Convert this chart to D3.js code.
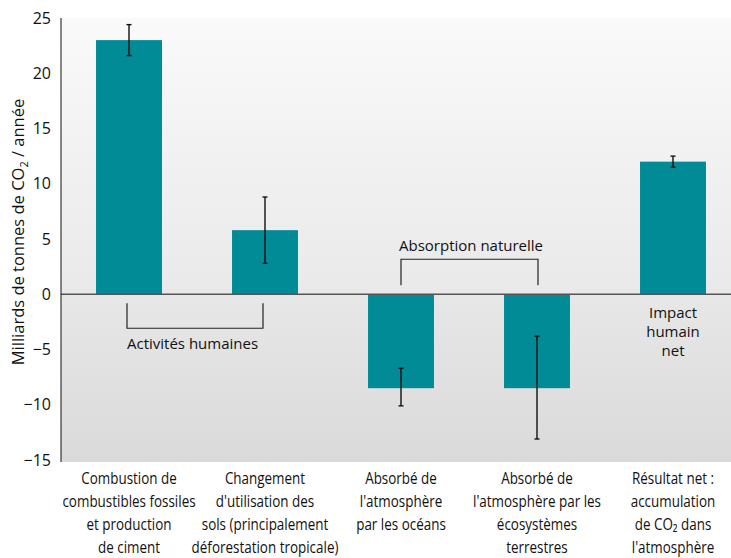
<!DOCTYPE html>
<html>
<head>
<meta charset="utf-8">
<script src="https://cdn.jsdelivr.net/npm/d3@7"></script>
<style>
  body { margin: 0; background: #fff; }
  svg text { fill: #111; }
</style>
</head>
<body>
<div class="chart"></div>
<script>
// Data
const categories = [
  ["Combustion de", "combustibles fossiles", "et production", "de ciment"],
  ["Changement", "d'utilisation des", "sols  (principalement", "déforestation  tropicale)"],
  ["Absorbé de", "l'atmosphère", "par les océans"],
  ["Absorbé de", "l'atmosphère  par les", "écosystèmes", "terrestres"],
  ["Résultat net :", "accumulation", "de CO₂ dans", "l'atmosphère"]
];
const values = [23, 5.8, -8.5, -8.5, 12];
const errLow = [21.6, 2.8, -10.1, -13.1, 11.5];
const errHigh = [24.4, 8.8, -6.7, -3.8, 12.5];
const yTicks = [25, 20, 15, 10, 5, 0, -5, -10, -15];

const width = 731, height = 558;
const plotLeft = 61, plotTop = 18, plotBottom = 460;

const svg = d3.select(".chart").append("svg")
  .attr("width", width)
  .attr("height", height);

const x = d3.scaleBand()
  .domain(d3.range(values.length))
  .range([plotLeft, plotLeft + 5 * 136])
  .paddingInner(0.515)
  .paddingOuter(0.2575);

const y = d3.scaleLinear().domain([-15, 25]).range([plotBottom, plotTop]);

// Background gradients
const defs = svg.append("defs");
const gTop = defs.append("linearGradient").attr("id", "bgTop")
  .attr("x1", 0).attr("y1", 0).attr("x2", 0).attr("y2", 1);
gTop.append("stop").attr("offset", "0%").attr("stop-color", "#fafafa");
gTop.append("stop").attr("offset", "100%").attr("stop-color", "#e9e9e9");
const gBot = defs.append("linearGradient").attr("id", "bgBot")
  .attr("x1", 0).attr("y1", 0).attr("x2", 0).attr("y2", 1);
gBot.append("stop").attr("offset", "0%").attr("stop-color", "#e7e7e7");
gBot.append("stop").attr("offset", "100%").attr("stop-color", "#dadada");

svg.append("rect")
  .attr("x", plotLeft).attr("y", y(25))
  .attr("width", width - plotLeft).attr("height", y(0) - y(25))
  .attr("fill", "url(#bgTop)");
svg.append("rect")
  .attr("x", plotLeft).attr("y", y(0))
  .attr("width", width - plotLeft).attr("height", y(-15) - y(0) + 2)
  .attr("fill", "url(#bgBot)");

// Bars
svg.selectAll(".bar")
  .data(values)
  .enter()
  .append("rect")
  .attr("class", "bar")
  .attr("x", (d, i) => x(i))
  .attr("width", x.bandwidth())
  .attr("y", d => y(Math.max(0, d)))
  .attr("height", d => Math.abs(y(d) - y(0)))
  .attr("fill", "#008b96");

// Error bars
const err = svg.append("g").attr("stroke", "#111").attr("stroke-width", 1.4);
values.forEach((v, i) => {
  const cx = x(i) + x.bandwidth() / 2;
  err.append("line")
    .attr("x1", cx).attr("x2", cx)
    .attr("y1", y(errLow[i])).attr("y2", y(errHigh[i]));
  [errLow[i], errHigh[i]].forEach(e => {
    err.append("line")
      .attr("x1", cx - 2.5).attr("x2", cx + 2.5)
      .attr("y1", y(e)).attr("y2", y(e));
  });
});

// Zero line
svg.append("line")
  .attr("x1", plotLeft).attr("x2", width)
  .attr("y1", y(0)).attr("y2", y(0))
  .attr("stroke", "#555").attr("stroke-width", 1.5);

// Y axis
const yAxis = d3.axisLeft(y).tickValues(yTicks).tickSize(0).tickPadding(10);
const yg = svg.append("g")
  .attr("transform", `translate(${plotLeft},0)`)
  .call(yAxis);
yg.select(".domain").attr("stroke", "#111").attr("d", `M0,${plotTop}V${plotBottom + 2}`);
yg.selectAll("text")
  .style("font", "16px 'Open Sans', sans-serif")
  .attr("fill", "#222");

// Y axis title
const yt = svg.append("text")
  .attr("transform", "translate(24,232) rotate(-90)")
  .attr("text-anchor", "middle")
  .style("font", "16.5px 'Open Sans', sans-serif");
yt.append("tspan").text("Milliards de tonnes de CO");
yt.append("tspan").attr("font-size", "11px").attr("dy", 4).text("2");
yt.append("tspan").attr("dy", -4).text(" / année");

// Category labels (condensed look via horizontal squeeze)
const labels = svg.selectAll(".cat")
  .data(categories)
  .enter()
  .append("text")
  .attr("class", "cat")
  .attr("text-anchor", "middle")
  .attr("transform", (d, i) => `translate(${x(i) + x.bandwidth() / 2},0) scale(0.84,1)`)
  .style("font", "16px 'Open Sans', sans-serif");
labels.each(function(lines) {
  const t = d3.select(this);
  lines.forEach((line, k) => {
    t.append("tspan")
      .attr("x", 0)
      .attr("y", 484 + k * 23)
      .text(line);
  });
});

// Bracket annotations
const c = i => x(i) + x.bandwidth() / 2;
svg.append("path")
  .attr("d", `M${c(0) - 2},${y(0) + 9}V${y(0) + 34}H${c(1) - 2}V${y(0) + 9}`)
  .attr("fill", "none").attr("stroke", "#222").attr("stroke-width", 1.2);
svg.append("text")
  .attr("x", c(0) - 2).attr("y", y(0) + 55)
  .style("font", "15px 'Open Sans', sans-serif")
  .text("Activités humaines");

svg.append("path")
  .attr("d", `M${c(2)},${y(0) - 9}V${y(0) - 35}H${c(3) + 1}V${y(0) - 9}`)
  .attr("fill", "none").attr("stroke", "#222").attr("stroke-width", 1.2);
svg.append("text")
  .attr("x", c(2) - 2).attr("y", y(0) - 43)
  .style("font", "15px 'Open Sans', sans-serif")
  .text("Absorption naturelle");

const net = svg.append("text")
  .attr("text-anchor", "middle")
  .style("font", "15px 'Open Sans', sans-serif");
["Impact", "humain", "net"].forEach((line, k) => {
  net.append("tspan").attr("x", c(4)).attr("y", y(0) + 24 + k * 19).text(line);
});
</script>
</body>
</html>
